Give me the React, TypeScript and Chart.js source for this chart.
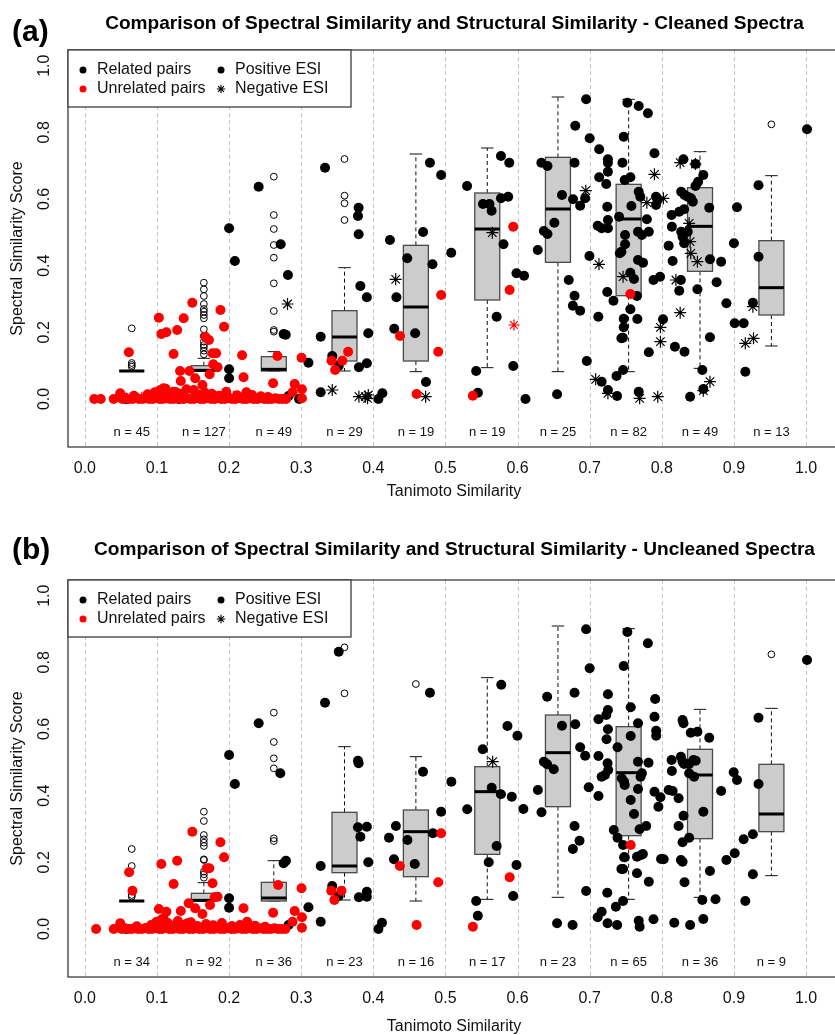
import React, { useEffect, useRef } from 'react';
import { Chart, registerables } from 'chart.js';
Chart.register(...registerables);

// ---------- axes ----------
const xTicks = [0, 0.1, 0.2, 0.3, 0.4, 0.5, 0.6, 0.7, 0.8, 0.9, 1.0];
const yTicks = [0, 0.2, 0.4, 0.6, 0.8, 1.0];
const boxPositions = [0.065, 0.165, 0.262, 0.36, 0.459, 0.558, 0.656, 0.754, 0.853, 0.952];

// ---------- panel (a): cleaned spectra ----------
const nA = [45, 127, 49, 29, 19, 19, 25, 82, 49, 13];
const lowA = [0.084, 0.084, 0.084, 0.084, 0.082, 0.094, 0.082, 0.082, 0.092, 0.159];
const q1A = [0.084, 0.084, 0.084, 0.114, 0.114, 0.297, 0.41, 0.31, 0.383, 0.252];
const medA = [0.084, 0.086, 0.089, 0.186, 0.276, 0.51, 0.57, 0.54, 0.518, 0.334];
const q3A = [0.084, 0.1, 0.127, 0.265, 0.461, 0.618, 0.725, 0.644, 0.634, 0.475];
const highA = [0.084, 0.122, 0.142, 0.394, 0.735, 0.753, 0.906, 0.899, 0.742, 0.67];
const outliersA = [
  [0.212, 0.108, 0.102, 0.097],
  [0.349, 0.329, 0.309, 0.285, 0.27, 0.262, 0.252, 0.242, 0.209, 0.189, 0.172, 0.162, 0.155, 0.145, 0.134],
  [0.667, 0.552, 0.51, 0.462, 0.424, 0.347, 0.264, 0.207, 0.202],
  [0.72, 0.61, 0.587, 0.537],
  [], [], [], [], [],
  [0.824],
];
const relatedPosA = [
  [0.057, 0], [0.13, 0], [0.2, 0.512], [0.208, 0.414], [0.2, 0.089], [0.2, 0.062],
  [0.241, 0.637], [0.2715, 0.464], [0.2816, 0.372], [0.2756, 0.195], [0.2785, 0.193], [0.2825, 0.009], [0.297, 0.0],
  [0.31, 0.109], [0.327, 0.187], [0.327, 0.02], [0.333, 0.694], [0.343, 0.129], [0.352, 0.099], [0.3796, 0.574],
  [0.3787, 0.549], [0.3796, 0.494], [0.382, 0.339], [0.391, 0.305], [0.393, 0.197], [0.391, 0.107], [0.38, 0.095],
  [0.407, 0.0], [0.4125, 0.017],
  [0.423, 0.477], [0.429, 0.211], [0.432, 0.305], [0.447, 0.422], [0.458, 0.197], [0.469, 0.501], [0.4785, 0.709],
  [0.494, 0.672], [0.482, 0.404], [0.473, 0.051],
  [0.508, 0.439], [0.53, 0.639], [0.552, 0.585], [0.561, 0.585], [0.564, 0.565], [0.577, 0.729], [0.577, 0.602],
  [0.587, 0.607], [0.5885, 0.709], [0.5805, 0.464], [0.5985, 0.377], [0.609, 0.37], [0.571, 0.247], [0.5426, 0.084],
  [0.545, 0.019], [0.594, 0.099],
  [0.611, 0.0], [0.628, 0.447], [0.633, 0.709], [0.6415, 0.699], [0.6365, 0.504], [0.6415, 0.495], [0.651, 0.529],
  [0.6616, 0.612], [0.6548, 0.014], [0.671, 0.357], [0.677, 0.599], [0.679, 0.709], [0.68, 0.82], [0.679, 0.31],
  [0.6767, 0.28], [0.6868, 0.265], [0.6868, 0.58], [0.6937, 0.602], [0.6951, 0.899], [0.696, 0.114],
  [0.7, 0.782], [0.6997, 0.429], [0.712, 0.247], [0.7132, 0.749], [0.7132, 0.665], [0.7253, 0.719], [0.7253, 0.709],
  [0.7253, 0.682], [0.723, 0.645], [0.7244, 0.577], [0.7111, 0.52], [0.7166, 0.512], [0.7253, 0.537], [0.7253, 0.512],
  [0.7244, 0.321], [0.733, 0.295], [0.7166, 0.052], [0.7253, 0.027], [0.7372, 0.069], [0.738, 0.009], [0.7463, 0.087],
  [0.7472, 0.241], [0.7472, 0.215], [0.744, 0.182], [0.746, 0.184], [0.7418, 0.437], [0.744, 0.442], [0.7408, 0.547],
  [0.7491, 0.492], [0.7491, 0.464], [0.7472, 0.787], [0.7454, 0.709], [0.7486, 0.657], [0.7564, 0.665], [0.7523, 0.889],
  [0.768, 0.879], [0.7807, 0.857], [0.7564, 0.379], [0.7614, 0.36], [0.7578, 0.579], [0.7564, 0.269], [0.7661, 0.24],
  [0.7656, 0.309], [0.767, 0.417], [0.774, 0.409], [0.767, 0.502], [0.7724, 0.492], [0.768, 0.622], [0.7702, 0.607],
  [0.7793, 0.539], [0.782, 0.502], [0.782, 0.14], [0.768, 0.022], [0.7898, 0.737], [0.792, 0.607], [0.7944, 0.597],
  [0.792, 0.582], [0.7885, 0.357], [0.7976, 0.367], [0.8017, 0.239],
  [0.8182, 0.157], [0.8095, 0.46], [0.8136, 0.552], [0.814, 0.517], [0.815, 0.414], [0.8242, 0.325], [0.8265, 0.357],
  [0.83, 0.719], [0.8269, 0.622], [0.8315, 0.612], [0.836, 0.607], [0.8406, 0.602], [0.843, 0.592], [0.8242, 0.562],
  [0.831, 0.569], [0.8269, 0.502], [0.8288, 0.487], [0.831, 0.467], [0.836, 0.502], [0.8467, 0.705], [0.8467, 0.639],
  [0.8504, 0.652], [0.8576, 0.672], [0.8315, 0.142], [0.8393, 0.007], [0.8494, 0.329], [0.8562, 0.087], [0.8576, 0.03],
  [0.8668, 0.185], [0.8668, 0.419], [0.8658, 0.574], [0.876, 0.35], [0.8823, 0.412], [0.8896, 0.287], [0.9, 0.467],
  [0.9043, 0.575],
  [0.9011, 0.227], [0.9135, 0.227], [0.9158, 0.082], [0.9263, 0.289], [0.9341, 0.427], [0.9341, 0.641], [1.0014, 0.809],
];
const relatedNegA = [
  [0.281, 0.285], [0.343, 0.027], [0.38, 0.007], [0.389, 0.007], [0.392, 0.002], [0.393, 0.012], [0.431, 0.359],
  [0.4725, 0.007], [0.565, 0.499], [0.6946, 0.625], [0.7129, 0.404], [0.7083, 0.059], [0.7253, 0.017], [0.7463, 0.367],
  [0.7793, 0.589], [0.7693, 0.002], [0.7898, 0.674], [0.7944, 0.007], [0.7981, 0.215], [0.7981, 0.172], [0.8022, 0.602],
  [0.8196, 0.357], [0.8255, 0.709], [0.8255, 0.259], [0.8379, 0.527], [0.8393, 0.472], [0.8402, 0.437], [0.8494, 0.412],
  [0.8467, 0.705], [0.8576, 0.025], [0.8668, 0.052], [0.9158, 0.167], [0.9272, 0.182], [0.9263, 0.277],
];
const unrelatedPosA = [
  [0.013, 0], [0.022, 0], [0.040, 0], [0.052, 0], [0.056, 0.004], [0.061, 0], [0.066, 0], [0.071, 0.003], [0.075, 0],
  [0.080, 0], [0.085, 0.002], [0.089, 0], [0.094, 0], [0.099, 0.004], [0.104, 0], [0.108, 0], [0.113, 0.002], [0.118, 0],
  [0.123, 0], [0.127, 0.003], [0.132, 0], [0.137, 0], [0.141, 0.002], [0.146, 0], [0.151, 0], [0.156, 0.004], [0.160, 0],
  [0.165, 0], [0.170, 0.002], [0.175, 0], [0.180, 0], [0.184, 0.003], [0.189, 0], [0.194, 0], [0.199, 0.002], [0.204, 0],
  [0.209, 0], [0.214, 0.003], [0.219, 0], [0.224, 0], [0.229, 0.002], [0.234, 0], [0.239, 0], [0.244, 0.003], [0.249, 0],
  [0.254, 0], [0.259, 0], [0.264, 0.002], [0.269, 0], [0.274, 0], [0.279, 0],
  [0.068, 0.01], [0.087, 0.014], [0.097, 0.02], [0.104, 0.026], [0.112, 0.031], [0.119, 0.012], [0.126, 0.021],
  [0.134, 0.016], [0.141, 0.029], [0.158, 0.013], [0.166, 0.02], [0.176, 0.016], [0.186, 0.01], [0.196, 0.022],
  [0.211, 0.011], [0.232, 0.012], [0.244, 0.008], [0.254, 0.006],
  [0.049, 0.017], [0.061, 0.14], [0.1026, 0.244], [0.106, 0.195], [0.113, 0.2], [0.123, 0.135], [0.128, 0.207],
  [0.137, 0.242], [0.149, 0.289], [0.132, 0.084], [0.133, 0.054], [0.145, 0.084], [0.153, 0.062], [0.163, 0.042],
  [0.167, 0.187], [0.172, 0.177], [0.177, 0.137], [0.182, 0.137], [0.178, 0.104], [0.184, 0.095], [0.173, 0.074],
  [0.188, 0.267], [0.193, 0.217], [0.151, 0.027], [0.109, 0.032], [0.123, 0.022], [0.22, 0.065], [0.218, 0.131],
  [0.261, 0.047], [0.267, 0.129], [0.291, 0.045], [0.288, 0.02], [0.3004, 0.124], [0.301, 0.029], [0.301, 0.002],
  [0.224, 0.02], [0.342, 0.115], [0.347, 0.087], [0.357, 0.115], [0.365, 0.142], [0.437, 0.189], [0.494, 0.312],
  [0.49, 0.142], [0.46, 0.015], [0.594, 0.517], [0.589, 0.327], [0.538, 0.01], [0.7564, 0.315],
];
const unrelatedNegA = [
  [0.058, 0.003], [0.079, 0.005], [0.094, 0.01], [0.109, 0.018], [0.121, 0.006], [0.138, 0.012], [0.153, 0.004],
  [0.171, 0.009], [0.187, 0.005], [0.206, 0.008], [0.222, 0.003], [0.241, 0.004], [0.595, 0.222],
];

// ---------- panel (b): uncleaned spectra ----------
const nB = [34, 92, 36, 23, 16, 17, 23, 65, 36, 9];
const lowB = [0.084, 0.084, 0.084, 0.087, 0.084, 0.089, 0.095, 0.089, 0.095, 0.16];
const q1B = [0.084, 0.084, 0.084, 0.169, 0.157, 0.224, 0.367, 0.28, 0.271, 0.292];
const medB = [0.084, 0.086, 0.093, 0.189, 0.292, 0.412, 0.529, 0.469, 0.462, 0.345];
const q3B = [0.084, 0.107, 0.14, 0.35, 0.357, 0.487, 0.642, 0.607, 0.539, 0.494];
const highB = [0.084, 0.139, 0.205, 0.547, 0.517, 0.754, 0.909, 0.901, 0.659, 0.662];
const outliersB = [
  [0.24, 0.189, 0.102, 0.097],
  [0.352, 0.324, 0.282, 0.269, 0.259, 0.249, 0.209, 0.207, 0.172, 0.164, 0.154],
  [0.649, 0.561, 0.512, 0.482, 0.272, 0.264],
  [0.845, 0.707],
  [0.735],
  [], [], [], [],
  [0.824],
];
const relatedPosB = [
  [0.057, 0], [0.2, 0.522], [0.208, 0.435], [0.2, 0.092], [0.2, 0.064], [0.241, 0.617], [0.271, 0.467], [0.2756, 0.197],
  [0.2788, 0.205], [0.2825, 0.012], [0.31, 0.065], [0.327, 0.189], [0.327, 0.022], [0.333, 0.679], [0.343, 0.129],
  [0.352, 0.099], [0.352, 0.832], [0.3787, 0.505], [0.3796, 0.497], [0.382, 0.277], [0.3787, 0.305], [0.391, 0.307],
  [0.393, 0.2], [0.391, 0.112], [0.391, 0.097], [0.38, 0.095], [0.407, 0.0], [0.412, 0.019],
  [0.4217, 0.274], [0.4286, 0.209], [0.4313, 0.309], [0.4473, 0.267], [0.4574, 0.195], [0.4689, 0.472], [0.4785, 0.709],
  [0.4826, 0.287], [0.494, 0.352],
  [0.5082, 0.442], [0.5302, 0.359], [0.5517, 0.539], [0.5641, 0.424], [0.5769, 0.404], [0.5774, 0.733], [0.586, 0.609],
  [0.592, 0.397], [0.571, 0.249], [0.56, 0.2], [0.5985, 0.192], [0.6081, 0.36], [0.5998, 0.58], [0.5426, 0.084],
  [0.5449, 0.04], [0.5939, 0.099],
  [0.6282, 0.417], [0.6332, 0.35], [0.641, 0.697], [0.6365, 0.502], [0.641, 0.494], [0.6502, 0.479], [0.6616, 0.61],
  [0.6548, 0.017], [0.6763, 0.012], [0.679, 0.709], [0.68, 0.614], [0.679, 0.309], [0.6767, 0.24], [0.6859, 0.265],
  [0.6868, 0.545], [0.6937, 0.52], [0.6951, 0.899], [0.6951, 0.114], [0.7, 0.782], [0.6987, 0.425], [0.7122, 0.399],
  [0.7122, 0.629], [0.7122, 0.519], [0.7166, 0.457], [0.7212, 0.462], [0.7257, 0.477], [0.7248, 0.497], [0.723, 0.642],
  [0.7253, 0.657], [0.7253, 0.704], [0.7253, 0.599], [0.7234, 0.569], [0.7111, 0.035], [0.7166, 0.052], [0.7248, 0.017],
  [0.7363, 0.067], [0.7381, 0.012], [0.7244, 0.109], [0.7335, 0.297], [0.7386, 0.274], [0.7386, 0.545], [0.7445, 0.452],
  [0.7477, 0.442], [0.7486, 0.432], [0.7463, 0.252], [0.7486, 0.215], [0.7477, 0.215], [0.744, 0.18], [0.7463, 0.18],
  [0.7463, 0.084], [0.7472, 0.789], [0.7523, 0.891], [0.7569, 0.665], [0.7569, 0.579], [0.7569, 0.387], [0.7615, 0.345],
  [0.7656, 0.217], [0.7715, 0.222], [0.7738, 0.225], [0.7656, 0.167], [0.767, 0.617], [0.767, 0.502], [0.767, 0.42],
  [0.7706, 0.457], [0.7724, 0.467], [0.7692, 0.299], [0.7784, 0.309], [0.7816, 0.499], [0.7807, 0.857], [0.782, 0.142],
  [0.768, 0.025], [0.7693, 0.007], [0.7885, 0.029], [0.7899, 0.637], [0.7922, 0.595], [0.7922, 0.58], [0.7908, 0.69],
  [0.7899, 0.412], [0.7981, 0.395], [0.7953, 0.367], [0.799, 0.21], [0.8026, 0.209], [0.8173, 0.019], [0.8393, 0.012],
  [0.8576, 0.03],
  [0.8095, 0.417], [0.815, 0.414], [0.8136, 0.507], [0.814, 0.474], [0.8233, 0.392], [0.8265, 0.517], [0.8288, 0.502],
  [0.831, 0.495], [0.8379, 0.495], [0.8439, 0.507], [0.8471, 0.505], [0.8379, 0.467], [0.8448, 0.457], [0.8288, 0.627],
  [0.8301, 0.617], [0.8402, 0.589], [0.8494, 0.592], [0.8658, 0.574], [0.8233, 0.309], [0.8301, 0.34], [0.8379, 0.274],
  [0.8288, 0.26], [0.8265, 0.207], [0.8288, 0.202], [0.8315, 0.14], [0.8576, 0.352], [0.8668, 0.174], [0.8562, 0.087],
  [0.8745, 0.089], [0.8823, 0.414], [0.8896, 0.207], [0.8997, 0.47], [0.9043, 0.447], [0.9011, 0.227],
  [0.9135, 0.269], [0.9263, 0.284], [0.9158, 0.084], [0.9263, 0.164], [0.9341, 0.435], [0.9341, 0.634], [1.0014, 0.807],
];
const relatedNegB = [[0.5655, 0.502]];
const unrelatedPosB = [
  [0.0156, 0], [0.040, 0], [0.051, 0], [0.055, 0.003], [0.060, 0], [0.065, 0], [0.070, 0.002], [0.074, 0], [0.079, 0],
  [0.084, 0.003], [0.088, 0], [0.093, 0], [0.098, 0.002], [0.103, 0], [0.107, 0], [0.112, 0.003], [0.117, 0], [0.122, 0],
  [0.126, 0.002], [0.131, 0], [0.136, 0], [0.140, 0.003], [0.145, 0], [0.150, 0], [0.155, 0.002], [0.159, 0], [0.164, 0],
  [0.169, 0.003], [0.174, 0], [0.179, 0], [0.183, 0.002], [0.188, 0], [0.193, 0], [0.198, 0.003], [0.203, 0], [0.208, 0],
  [0.213, 0.002], [0.218, 0], [0.223, 0], [0.228, 0.003], [0.233, 0], [0.238, 0], [0.243, 0.002], [0.248, 0], [0.253, 0],
  [0.258, 0], [0.263, 0.002], [0.268, 0], [0.273, 0], [0.278, 0],
  [0.049, 0.017], [0.072, 0.008], [0.092, 0.012], [0.099, 0.021], [0.106, 0.028], [0.115, 0.018], [0.121, 0.01],
  [0.129, 0.024], [0.137, 0.012], [0.147, 0.02], [0.156, 0.009], [0.168, 0.015], [0.178, 0.011], [0.19, 0.018],
  [0.204, 0.009], [0.215, 0.012], [0.236, 0.01], [0.25, 0.007],
  [0.0614, 0.17], [0.066, 0.115], [0.1026, 0.06], [0.106, 0.195], [0.113, 0.052], [0.123, 0.135], [0.128, 0.205],
  [0.133, 0.054], [0.144, 0.077], [0.149, 0.292], [0.153, 0.062], [0.163, 0.045], [0.169, 0.182], [0.1726, 0.182],
  [0.177, 0.137], [0.18, 0.095], [0.184, 0.097], [0.1735, 0.072], [0.188, 0.26], [0.193, 0.215], [0.142, 0.017],
  [0.109, 0.032], [0.22, 0.062], [0.225, 0.022], [0.261, 0.049], [0.268, 0.132], [0.291, 0.054], [0.288, 0.022],
  [0.3004, 0.122], [0.301, 0.035], [0.301, 0.004], [0.3416, 0.115], [0.346, 0.087], [0.3558, 0.115], [0.4368, 0.189],
  [0.494, 0.287], [0.49, 0.14], [0.46, 0.012], [0.538, 0.007], [0.589, 0.155], [0.7569, 0.252],
];
const unrelatedNegB: number[][] = [];

// ---------- texts ----------
const titleA = 'Comparison of Spectral Similarity and Structural Similarity - Cleaned Spectra';
const titleB = 'Comparison of Spectral Similarity and Structural Similarity - Uncleaned Spectra';
const xTitle = 'Tanimoto Similarity';
const yTitle = 'Spectral Similarity Score';
const legendLabels = ['Related pairs', 'Unrelated pairs', 'Positive ESI', 'Negative ESI'];

// ---------- layout ----------
const W = 835;
const FONT = "'Liberation Sans', Arial, Helvetica, sans-serif";
const panels = [
  {
    tag: '(a)', title: titleA, n: nA, low: lowA, q1: q1A, med: medA, q3: q3A, high: highA, outliers: outliersA,
    relPos: relatedPosA, relNeg: relatedNegA, unrPos: unrelatedPosA, unrNeg: unrelatedNegA,
    top: 0, height: 530, padBottom: 83, tagBase: 41, titleBase: 28.5, xTitleY: 492,
  },
  {
    tag: '(b)', title: titleB, n: nB, low: lowB, q1: q1B, med: medB, q3: q3B, high: highB, outliers: outliersB,
    relPos: relatedPosB, relNeg: relatedNegB, unrPos: unrelatedPosB, unrNeg: unrelatedNegB,
    top: 530, height: 505, padBottom: 58, tagBase: 29, titleBase: 25, xTitleY: 497,
  },
];

const toXY = (arr: number[][]) => arr.map(([x, y]) => ({ x, y }));

function makePlugin(p: any) {
  return {
    id: 'rstyle',
    beforeDatasetsDraw(chart: any) {
      const { ctx, chartArea: a, scales } = chart;
      const xs = scales.x, ys = scales.y;
      ctx.save();
      // dashed vertical grid
      ctx.strokeStyle = '#c4c4c4';
      ctx.lineWidth = 1;
      ctx.setLineDash([4, 3]);
      for (const t of xTicks) {
        const px = Math.round(xs.getPixelForValue(t)) + 0.5;
        ctx.beginPath(); ctx.moveTo(px, a.top); ctx.lineTo(px, a.bottom); ctx.stroke();
      }
      // boxplots
      const hw = 12.5;
      for (let i = 0; i < boxPositions.length; i++) {
        const cx = xs.getPixelForValue(boxPositions[i]);
        const yl = ys.getPixelForValue(p.low[i]);
        const y1 = ys.getPixelForValue(p.q1[i]);
        const ym = ys.getPixelForValue(p.med[i]);
        const y3 = ys.getPixelForValue(p.q3[i]);
        const yh = ys.getPixelForValue(p.high[i]);
        ctx.strokeStyle = '#111';
        ctx.lineWidth = 1;
        ctx.setLineDash([4, 3]);
        ctx.beginPath(); ctx.moveTo(cx, y3); ctx.lineTo(cx, yh); ctx.moveTo(cx, y1); ctx.lineTo(cx, yl); ctx.stroke();
        ctx.setLineDash([]);
        ctx.beginPath(); ctx.moveTo(cx - hw / 2, yh); ctx.lineTo(cx + hw / 2, yh);
        ctx.moveTo(cx - hw / 2, yl); ctx.lineTo(cx + hw / 2, yl); ctx.stroke();
        ctx.fillStyle = '#cccccc';
        ctx.fillRect(cx - hw, y3, 2 * hw, y1 - y3);
        ctx.strokeStyle = '#4a4a4a';
        ctx.lineWidth = 1.3;
        ctx.strokeRect(cx - hw, y3, 2 * hw, y1 - y3);
        ctx.strokeStyle = '#000';
        ctx.lineWidth = 3;
        ctx.beginPath(); ctx.moveTo(cx - hw, ym); ctx.lineTo(cx + hw, ym); ctx.stroke();
      }
      ctx.restore();
    },
    afterDatasetsDraw(chart: any) {
      const { ctx, chartArea: a, scales } = chart;
      const xs = scales.x, ys = scales.y;
      ctx.save();
      ctx.setLineDash([]);
      // frame
      ctx.strokeStyle = '#3c3c3c';
      ctx.lineWidth = 1.3;
      ctx.strokeRect(a.left, a.top, a.right - a.left + 10, a.bottom - a.top);
      // n labels
      ctx.fillStyle = '#111';
      ctx.font = `13px ${FONT}`;
      ctx.textAlign = 'center';
      ctx.textBaseline = 'middle';
      for (let i = 0; i < boxPositions.length; i++) {
        ctx.fillText(`n = ${p.n[i]}`, xs.getPixelForValue(boxPositions[i]), ys.getPixelForValue(-0.1));
      }
      // x tick labels
      ctx.font = `16px ${FONT}`;
      for (const t of xTicks) ctx.fillText(t.toFixed(1), xs.getPixelForValue(t), a.bottom + 22);
      // y tick labels (rotated)
      for (const t of yTicks) {
        ctx.save();
        ctx.translate(45, ys.getPixelForValue(t));
        ctx.rotate(-Math.PI / 2);
        ctx.fillText(t.toFixed(1), 0, 0);
        ctx.restore();
      }
      // axis titles
      ctx.fillText(xTitle, 454, p.xTitleY);
      ctx.save();
      ctx.translate(17.5, (a.top + a.bottom) / 2);
      ctx.rotate(-Math.PI / 2);
      ctx.fillText(yTitle, 0, 0);
      ctx.restore();
      // main title (fit to measured width of panel a title)
      ctx.font = `bold 100px ${FONT}`;
      const w100 = ctx.measureText(titleA).width;
      const fs = (699 / w100) * 100;
      ctx.font = `bold ${fs}px ${FONT}`;
      ctx.textBaseline = 'alphabetic';
      ctx.fillStyle = '#000';
      ctx.fillText(p.title, 454.5, p.titleBase);
      ctx.font = `bold 30px ${FONT}`;
      ctx.textAlign = 'left';
      ctx.fillText(p.tag, 12, p.tagBase);
      // legend
      const lx = a.left, ly = a.top, lw = 283, lh = 57;
      ctx.fillStyle = '#fff';
      ctx.fillRect(lx, ly, lw, lh);
      ctx.strokeStyle = '#3c3c3c';
      ctx.lineWidth = 1.3;
      ctx.strokeRect(lx, ly, lw, lh);
      const r1 = ly + 20, r2 = ly + 39;
      const dot = (x: number, y: number, c: string) => {
        ctx.fillStyle = c; ctx.beginPath(); ctx.arc(x, y, 3.5, 0, Math.PI * 2); ctx.fill();
      };
      dot(lx + 15, r1, '#000');
      dot(lx + 15, r2, '#ff0000');
      dot(lx + 153, r1, '#000');
      // asterisk
      ctx.strokeStyle = '#000';
      ctx.lineWidth = 1.1;
      const ax = lx + 153, ay = r2, rr = 4.2;
      ctx.beginPath();
      ctx.moveTo(ax - rr, ay); ctx.lineTo(ax + rr, ay);
      ctx.moveTo(ax, ay - rr); ctx.lineTo(ax, ay + rr);
      const d = rr * 0.707;
      ctx.moveTo(ax - d, ay - d); ctx.lineTo(ax + d, ay + d);
      ctx.moveTo(ax - d, ay + d); ctx.lineTo(ax + d, ay - d);
      ctx.stroke();
      ctx.fillStyle = '#111';
      ctx.font = `16px ${FONT}`;
      ctx.textBaseline = 'middle';
      ctx.textAlign = 'left';
      ctx.fillText(legendLabels[0], lx + 29, r1);
      ctx.fillText(legendLabels[1], lx + 29, r2);
      ctx.fillText(legendLabels[2], lx + 167, r1);
      ctx.fillText(legendLabels[3], lx + 167, r2);
      ctx.restore();
    },
  };
}

function Panel({ p }: { p: any }) {
  const ref = useRef<HTMLCanvasElement>(null);
  useEffect(() => {
    const outl: { x: number; y: number }[] = [];
    p.outliers.forEach((arr: number[], i: number) => arr.forEach((y) => outl.push({ x: boxPositions[i], y })));
    const chart = new Chart(ref.current as HTMLCanvasElement, {
      type: 'scatter',
      data: {
        datasets: [
          { data: toXY(p.unrNeg), pointStyle: 'star', pointRadius: 5.5, borderColor: '#ff0000', borderWidth: 1.2, backgroundColor: 'rgba(0,0,0,0)' },
          { data: toXY(p.unrPos), pointStyle: 'circle', pointRadius: 5, backgroundColor: '#ff0000', borderWidth: 0 },
          { data: toXY(p.relNeg), pointStyle: 'star', pointRadius: 6, borderColor: '#000', borderWidth: 1.2, backgroundColor: 'rgba(0,0,0,0)' },
          { data: toXY(p.relPos), pointStyle: 'circle', pointRadius: 5, backgroundColor: '#000', borderWidth: 0 },
          { data: outl, pointStyle: 'circle', pointRadius: 3.4, borderColor: '#000', borderWidth: 1, backgroundColor: 'rgba(0,0,0,0)' },
        ] as any,
      },
      options: {
        animation: false,
        responsive: false,
        devicePixelRatio: 1,
        events: [],
        layout: { padding: { left: 68, right: 0, top: 50, bottom: p.padBottom } },
        scales: {
          x: { type: 'linear', min: -0.0234, max: 1.0302, display: false },
          y: { type: 'linear', min: -0.144, max: 1.047, display: false },
        },
        plugins: { legend: { display: false }, tooltip: { enabled: false } },
      },
      plugins: [makePlugin(p)],
    } as any);
    return () => chart.destroy();
  }, []);
  return (
    <canvas
      ref={ref}
      width={W}
      height={p.height}
      style={{ position: 'absolute', left: 0, top: p.top, width: W, height: p.height, display: 'block' }}
    />
  );
}

export default function App() {
  return (
    <div style={{ position: 'absolute', left: 0, top: 0, width: W, height: 1035, overflow: 'hidden', background: '#fff' }}>
      {panels.map((p, i) => (
        <Panel key={i} p={p} />
      ))}
    </div>
  );
}
